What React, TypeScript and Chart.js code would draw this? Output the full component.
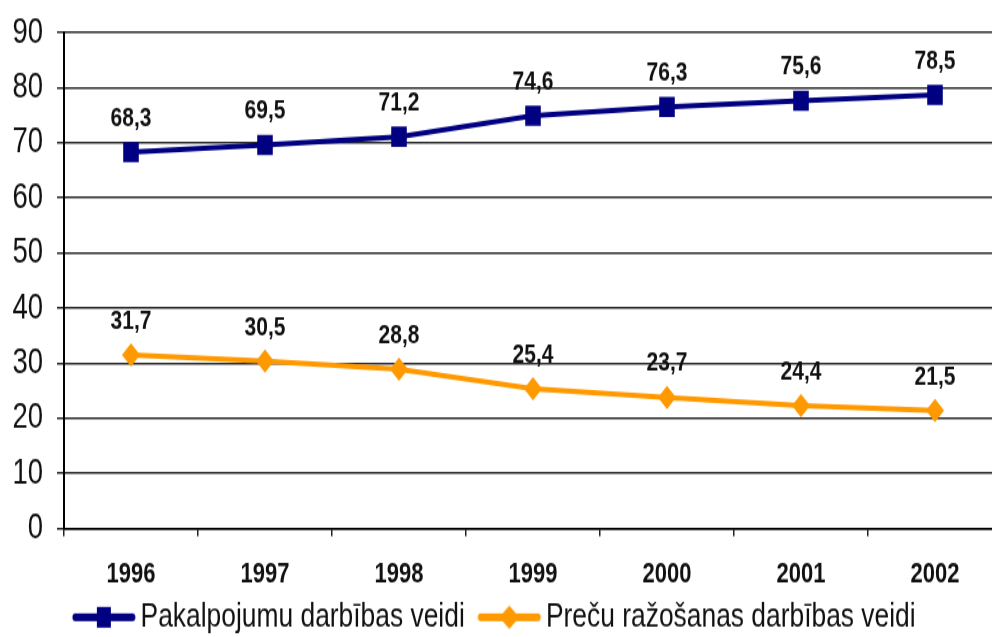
import React, { useEffect, useRef } from "react";
import { Chart, registerables } from "chart.js";

Chart.register(...registerables);

const years = ["1996", "1997", "1998", "1999", "2000", "2001", "2002"];
const servicesValues = [68.3, 69.6, 71.1, 74.9, 76.5, 77.6, 78.7];
const servicesLabels = ["68,3", "69,5", "71,2", "74,6", "76,3", "75,6", "78,5"];
const goodsValues = [31.5, 30.4, 28.9, 25.4, 23.8, 22.3, 21.4];
const goodsLabels = ["31,7", "30,5", "28,8", "25,4", "23,7", "24,4", "21,5"];
const seriesNames = ["Pakalpojumu darbības veidi", "Preču ražošanas darbības veidi"];
const yMin = 0;
const yMax = 90;
const yStep = 10;

const BLUE = "#000080";
const ORANGE = "#FF9900";
const FONT = '"Liberation Sans", Arial, sans-serif';
const SY = 1.3;
const CW = 1022;
const CH = 498;
const SHIFT = -20;

function makeSymbol(color: string, kind: "square" | "diamond") {
  const c = document.createElement("canvas");
  c.width = 80;
  c.height = 24;
  const ctx = c.getContext("2d")!;
  const a = 14.5;
  const mid = a + 32.5;
  ctx.strokeStyle = color;
  ctx.lineWidth = 6;
  ctx.lineCap = "round";
  ctx.beginPath();
  ctx.moveTo(a + 4, 12);
  ctx.lineTo(a + 61, 12);
  ctx.stroke();
  ctx.fillStyle = color;
  if (kind === "square") {
    ctx.fillRect(mid - 7, 12 - 8, 14, 16);
  } else {
    ctx.beginPath();
    ctx.moveTo(mid - 10, 12);
    ctx.lineTo(mid, 12 - 9);
    ctx.lineTo(mid + 10, 12);
    ctx.lineTo(mid, 12 + 9);
    ctx.closePath();
    ctx.fill();
  }
  return c;
}

const pointLabelPlugin = {
  id: "pointLabels",
  afterDatasetsDraw(chart: any) {
    const ctx = chart.ctx;
    chart.data.datasets.forEach((ds: any, i: number) => {
      const meta = chart.getDatasetMeta(i);
      const labels: string[] = ds.pointLabels || [];
      meta.data.forEach((pt: any, j: number) => {
        ctx.save();
        ctx.font = `bold 21px ${FONT}`;
        ctx.fillStyle = "#111";
        ctx.textAlign = "center";
        ctx.textBaseline = "middle";
        ctx.fillText(labels[j], pt.x, pt.y - 26);
        ctx.restore();
      });
    });
  },
};

export default function App() {
  const ref = useRef<HTMLCanvasElement | null>(null);

  useEffect(() => {
    if (!ref.current) return;
    const blueSym = makeSymbol(BLUE, "square");
    const orangeSym = makeSymbol(ORANGE, "diamond");
    const chart = new Chart(ref.current, {
      type: "line",
      data: {
        labels: years,
        datasets: [
          {
            label: seriesNames[0],
            data: servicesValues,
            borderColor: BLUE,
            backgroundColor: BLUE,
            borderWidth: 4,
            pointStyle: "rect",
            pointRadius: 11,
            pointBorderWidth: 0,
            tension: 0,
            pointLabels: servicesLabels,
          } as any,
          {
            label: seriesNames[1],
            data: goodsValues,
            borderColor: ORANGE,
            backgroundColor: ORANGE,
            borderWidth: 4,
            pointStyle: "rectRot",
            pointRadius: 9,
            pointBorderWidth: 0,
            tension: 0,
            pointLabels: goodsLabels,
          } as any,
        ],
      },
      options: {
        animation: false,
        responsive: false,
        devicePixelRatio: 1,
        events: [],
        layout: { autoPadding: false, padding: { top: 25, left: 0, right: 0, bottom: 0 } },
        plugins: {
          tooltip: { enabled: false },
          legend: {
            position: "bottom",
            labels: {
              usePointStyle: true,
              pointStyleWidth: 61,
              padding: 7,
              color: "#111",
              font: { family: FONT, size: 26.4 },
              generateLabels: () => [
                { text: seriesNames[0], pointStyle: blueSym as any, fontColor: "#111", datasetIndex: 0, hidden: false, lineWidth: 0 } as any,
                { text: seriesNames[1], pointStyle: orangeSym as any, fontColor: "#111", datasetIndex: 1, hidden: false, lineWidth: 0 } as any,
              ],
            },
          },
        },
        scales: {
          x: {
            offset: true,
            afterFit: (s: any) => {
              s.height = 48;
            },
            grid: {
              display: true,
              offset: true,
              drawOnChartArea: false,
              drawTicks: true,
              tickLength: 6,
              color: "#222",
              lineWidth: 1.5,
            },
            border: { display: true, color: "#000", width: 1.5 },
            ticks: {
              color: "#111",
              padding: 16,
              font: { family: FONT, size: 22, weight: "bold" },
              maxRotation: 0,
            },
          },
          y: {
            min: yMin,
            max: yMax,
            afterFit: (s: any) => {
              s.width = 84;
            },
            grid: {
              color: "#2a2a2a",
              lineWidth: 1.5,
              tickLength: 7,
              drawTicks: true,
            },
            border: { display: true, color: "#000", width: 2 },
            ticks: {
              stepSize: yStep,
              color: "#111",
              padding: 14,
              font: { family: FONT, size: 27.5, lineHeight: 0.8 },
            },
          },
        },
      },
      plugins: [pointLabelPlugin],
    });
    return () => chart.destroy();
  }, []);

  return (
    <div
      style={{
        position: "fixed",
        left: 0,
        top: 0,
        width: 992,
        height: 637,
        overflow: "hidden",
        background: "#fff",
      }}
    >
      <canvas
        ref={ref}
        width={CW}
        height={CH}
        style={{
          position: "absolute",
          left: SHIFT,
          top: 0,
          width: CW,
          height: CH,
          transform: `scaleY(${SY})`,
          transformOrigin: "0 0",
        }}
      />
    </div>
  );
}
